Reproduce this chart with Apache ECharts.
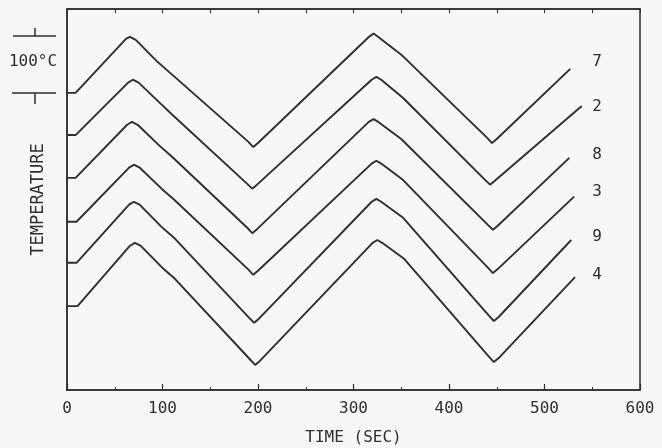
<!DOCTYPE html>
<html>
<head>
<meta charset="utf-8">
<script src="https://cdn.jsdelivr.net/npm/echarts@6/dist/echarts.min.js"></script>
<style>
html,body{margin:0;padding:0;background:#f7f7f7;}
#chart{width:662px;height:448px;}
</style>
</head>
<body>
<div id="chart"></div>
<script>
// ---- data (time in s, temperature offset in °C, curves stacked) ----
const seriesNames = ['7', '2', '8', '3', '9', '4'];
const xTickLabels = ['0', '100', '200', '300', '400', '500', '600'];

const time7 = [0, 9, 62, 66, 72, 95, 108, 190, 195, 200, 316, 321, 326, 350, 440, 445, 450, 527];
const temp7 = [521, 521, 616, 619, 614, 575, 556, 435, 426, 433, 619, 625, 619, 588, 442, 433, 440, 563];

const time2 = [0, 9, 64, 69, 75, 98, 110, 189, 194, 199, 319, 324, 329, 352, 438, 443, 448, 539];
const temp2 = [447, 447, 539, 544, 539, 502, 483, 361, 353, 360, 544, 549, 544, 512, 368, 360, 367, 498];

const time8 = [0, 9, 63, 68, 74, 97, 110, 189, 194, 199, 316, 321, 326, 350, 441, 446, 451, 526];
const temp8 = [372, 372, 465, 470, 465, 428, 409, 284, 275, 282, 470, 475, 470, 440, 289, 281, 288, 407];

const time3 = [0, 10, 65, 70, 76, 99, 112, 190, 195, 200, 319, 324, 329, 352, 441, 446, 451, 531];
const temp3 = [295, 295, 390, 395, 390, 353, 334, 211, 202, 209, 397, 402, 397, 368, 214, 205, 212, 339];

const time9 = [0, 10, 65, 70, 76, 99, 112, 191, 196, 201, 319, 324, 329, 352, 442, 447, 452, 528];
const temp9 = [223, 223, 325, 330, 325, 286, 267, 126, 118, 125, 330, 335, 330, 302, 130, 121, 128, 263];

const time4 = [0, 11, 66, 71, 77, 100, 113, 192, 197, 202, 320, 325, 330, 353, 442, 447, 452, 532];
const temp4 = [147, 147, 253, 258, 253, 214, 195, 53, 44, 51, 258, 263, 258, 230, 58, 49, 56, 198];

const allTimes = [time7, time2, time8, time3, time9, time4];
const allTemps = [temp7, temp2, temp8, temp3, temp9, temp4];

// ---- style ----
const INK = '#2e2e2e';
const FONT = 'DejaVu Sans Mono';
const labelX = 597;                       // pixel column of curve labels
const labelDy = [-7, 1, -3, -5, -3, -2];  // label vertical shift from line end

const chart = echarts.init(document.getElementById('chart'), null, {renderer: 'canvas'});

const series = seriesNames.map((name, i) => ({
  name: name,
  type: 'line',
  xAxisIndex: 0,
  yAxisIndex: 0,
  showSymbol: false,
  symbol: 'none',
  smooth: false,
  lineStyle: {color: INK, width: 1.9},
  data: allTimes[i].map((t, j) => [t, allTemps[i][j]]),
  endLabel: {
    show: true,
    formatter: '{a}',
    color: INK,
    fontFamily: FONT,
    fontSize: 16,
    distance: 0,
    align: 'center',
    verticalAlign: 'middle',
    offset: [0, 0]
  },
  animation: false
}));

const option = {
  backgroundColor: '#f7f7f7',
  animation: false,
  grid: {
    left: 67, right: 22, top: 9, bottom: 58,
    outerBoundsMode: 'none', containLabel: false,
    show: true, borderColor: INK, borderWidth: 1.5, backgroundColor: 'transparent'
  },
  xAxis: [{
    type: 'value', position: 'bottom', min: 0, max: 600, interval: 100,
    name: 'TIME (SEC)', nameLocation: 'middle', nameGap: 40,
    nameTextStyle: {color: INK, fontFamily: FONT, fontSize: 16},
    axisLine: {show: true, onZero: false, lineStyle: {color: INK, width: 1.5}},
    axisTick: {show: true, inside: true, length: 6, lineStyle: {color: INK, width: 1.2}},
    minorTick: {show: true, splitNumber: 2, length: 3, lineStyle: {color: INK, width: 1}},
    axisLabel: {
      color: INK, fontFamily: FONT, fontSize: 16, margin: 11,
      formatter: v => xTickLabels[Math.round(v / 100)]
    },
    splitLine: {show: false}
  }, {
    type: 'value', position: 'top', min: 0, max: 600, interval: 50,
    axisLine: {show: true, onZero: false, lineStyle: {color: INK, width: 1.5}},
    axisTick: {show: true, inside: true, length: 4, lineStyle: {color: INK, width: 1}},
    axisLabel: {show: false},
    splitLine: {show: false}
  }],
  yAxis: [{
    type: 'value', min: 0, max: 668,
    name: 'TEMPERATURE', nameLocation: 'middle', nameRotate: 90, nameGap: 20,
    nameTextStyle: {color: INK, fontFamily: FONT, fontSize: 17},
    axisLine: {show: true, onZero: false, lineStyle: {color: INK, width: 1.5}},
    axisTick: {show: false},
    axisLabel: {show: false},
    splitLine: {show: false}
  }],
  graphic: [
    // 100 °C scale bar
    {type: 'line', shape: {x1: 13, y1: 36, x2: 56, y2: 36}, style: {stroke: INK, lineWidth: 1.5}},
    {type: 'line', shape: {x1: 35, y1: 28, x2: 35, y2: 36}, style: {stroke: INK, lineWidth: 1.5}},
    {type: 'line', shape: {x1: 12, y1: 93, x2: 56, y2: 93}, style: {stroke: INK, lineWidth: 1.5}},
    {type: 'line', shape: {x1: 35, y1: 93, x2: 35, y2: 104}, style: {stroke: INK, lineWidth: 1.5}},
    {type: 'text', x: 33, y: 62, style: {text: '100°C', fill: INK, font: '16px "DejaVu Sans Mono"', align: 'center', verticalAlign: 'middle'}}
  ],
  series: series
};

chart.setOption(option);

// place curve labels in a column to the right of each line end
const offs = seriesNames.map((name, i) => {
  const n = allTimes[i].length - 1;
  const p = chart.convertToPixel({seriesIndex: i}, [allTimes[i][n], allTemps[i][n]]);
  return {endLabel: {offset: [labelX - p[0], labelDy[i]]}};
});
chart.setOption({series: offs});
</script>
</body>
</html>
